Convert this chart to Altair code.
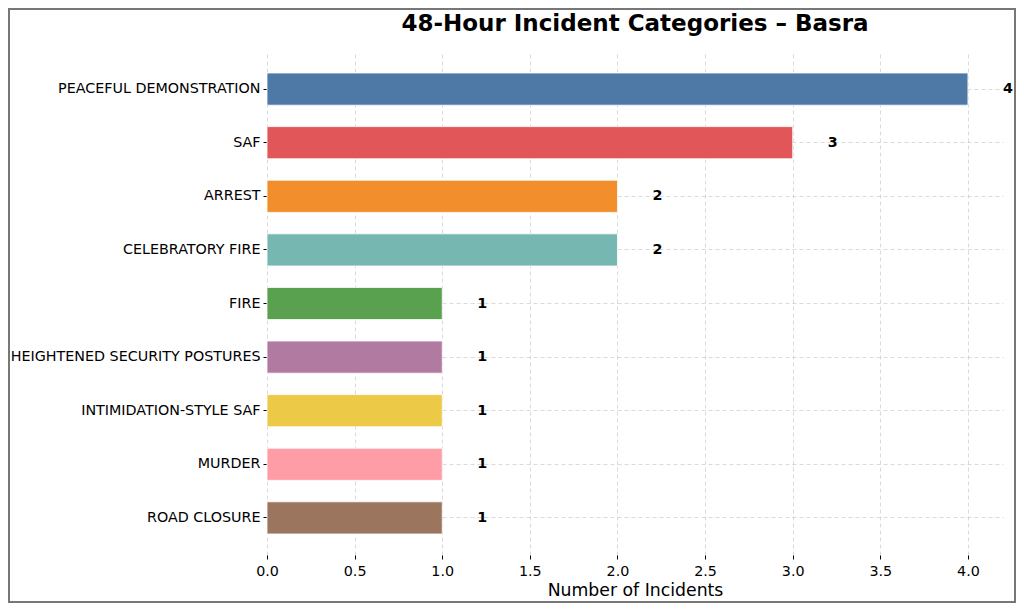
import altair as alt
import pandas as pd

categories = [
    "PEACEFUL DEMONSTRATION",
    "SAF",
    "ARREST",
    "CELEBRATORY FIRE",
    "FIRE",
    "HEIGHTENED SECURITY POSTURES",
    "INTIMIDATION-STYLE SAF",
    "MURDER",
    "ROAD CLOSURE",
]
counts = [4, 3, 2, 2, 1, 1, 1, 1, 1]
colors = ["#4e79a7", "#e15759", "#f28e2b", "#76b7b2", "#59a14f",
          "#b07aa1", "#edc948", "#ff9da7", "#9c755f"]
x_ticks = [0.0, 0.5, 1.0, 1.5, 2.0, 2.5, 3.0, 3.5, 4.0]

df = pd.DataFrame({"category": categories, "count": counts})

FONT = "DejaVu Sans"

y_enc = alt.Y(
    "category:N",
    sort=categories,
    scale=alt.Scale(paddingInner=0.4, paddingOuter=0.392),
    axis=alt.Axis(title=None, bandPosition=0.5, labelPadding=3, labelLimit=400),
)

base = alt.Chart(df)

bars = base.mark_bar(stroke="white", strokeWidth=0.8).encode(
    y=y_enc,
    x=alt.X(
        "count:Q",
        scale=alt.Scale(domain=[0, 4.2], nice=False, zero=True),
        axis=alt.Axis(values=x_ticks, format=".1f", title="Number of Incidents",
                      titleFontSize=17.3, titleFont=FONT, titleFontWeight="normal",
                      titleColor="black", titlePadding=3, labelPadding=5,
                      labelFlush=False),
    ),
    color=alt.Color("category:N", scale=alt.Scale(domain=categories, range=colors), legend=None),
)

labels = base.transform_calculate(lx="datum.count + 0.2").mark_text(
    align="left", baseline="middle", fontWeight="bold", fontSize=14.3, font=FONT, color="black"
).encode(
    y=alt.Y("category:N", sort=categories),
    x=alt.X("lx:Q"),
    text=alt.Text("count:Q"),
)

border = alt.Chart(pd.DataFrame({"a": [0]})).mark_rect(
    fillOpacity=0, stroke="#777777", strokeWidth=2
).encode(
    x=alt.value(-258), x2=alt.value(748), y=alt.value(-43), y2=alt.value(550)
)

chart = alt.layer(bars, labels, border).properties(
    width=736,
    height=503,
    title=alt.TitleParams(
        "48-Hour Incident Categories – Basra",
        anchor="middle", frame="group", fontSize=23, fontWeight="bold",
        font=FONT, color="black", offset=-28,
    ),
    autosize=alt.AutoSizeParams(type="none"),
    padding={"left": 259, "top": 44, "right": 13, "bottom": 49},
).configure_view(stroke=None).configure_axis(
    domain=False,
    tickColor="black",
    tickSize=4,
    labelFont=FONT,
    labelFontSize=14.3,
    labelColor="black",
    grid=True,
    gridDash=[4, 3],
    gridColor="#b0b0b0",
    gridOpacity=0.6,
    gridWidth=0.8,
    zindex=1,
)

chart.save("out.html", embed_options={"renderer": "svg", "actions": False})
